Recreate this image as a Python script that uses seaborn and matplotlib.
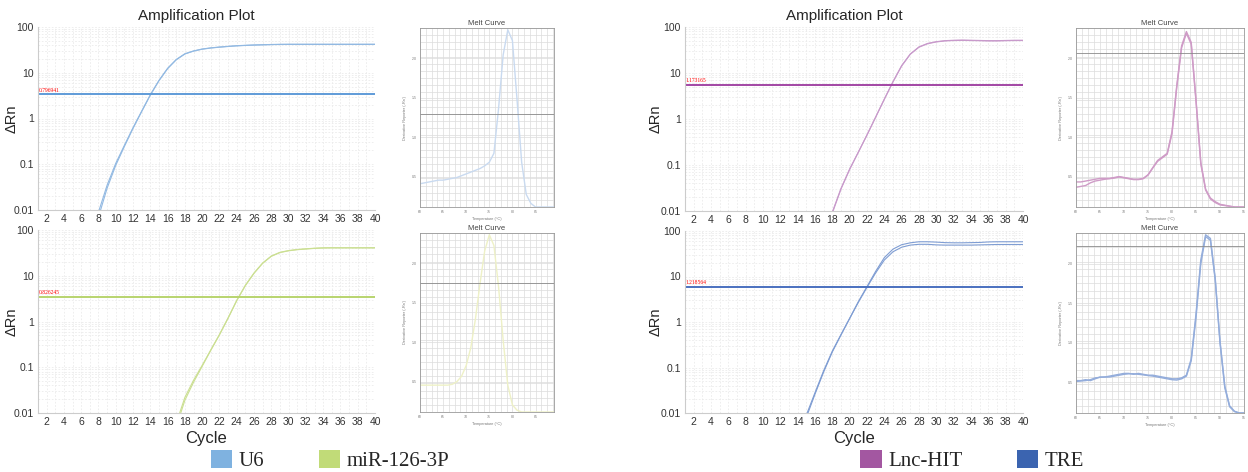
import matplotlib
matplotlib.use("Agg")
import numpy as np
import pandas as pd
import matplotlib.pyplot as plt
from matplotlib.patches import Patch
from matplotlib.ticker import FixedLocator, MultipleLocator, LogLocator, NullFormatter
import seaborn as sns

sns.set_style("white")
plt.rcParams['font.family'] = ['Liberation Sans', 'DejaVu Sans']

# 증폭 곡선 (cycle 1~40, 반복 2개씩)
cycles = list(range(1, 41))
tiny = [1e-4] * 13

u6_rep1 = [1e-4, 1.5e-4, 2e-4, 3e-4, 5e-4, 1e-3, 2.5e-3, 0.009, 0.035, 0.105,
           0.26, 0.63, 1.45, 3.3, 6.8, 12.5, 19.5, 26, 30, 33,
           35, 36.5, 37.8, 39, 39.8, 40.5, 41, 41.5, 41.8, 42,
           42, 42, 42, 42, 42, 42, 42, 42, 42, 42]
u6_rep2 = [1e-4, 1.5e-4, 2e-4, 3e-4, 5e-4, 1e-3, 2e-3, 0.007, 0.03, 0.095,
           0.245, 0.61, 1.42, 3.25, 6.7, 12.3, 19.2, 25.7, 29.7, 32.7,
           34.7, 36.2, 37.5, 38.7, 39.5, 40.2, 40.7, 41.2, 41.5, 41.6,
           41.6, 41.6, 41.6, 41.6, 41.6, 41.6, 41.6, 41.6, 41.6, 41.6]

mir_rep1 = tiny + [1e-4, 5e-4, 0.0015, 0.006, 0.022, 0.052, 0.11, 0.24, 0.52, 1.2,
                   2.9, 6.2, 11.5, 19, 27, 32.5, 35.5, 37.5, 38.8, 40,
                   40.8, 41, 41, 41, 41, 41, 41]
mir_rep2 = tiny + [1e-4, 4e-4, 0.0012, 0.005, 0.019, 0.047, 0.105, 0.235, 0.51, 1.18,
                   2.85, 6.1, 11.3, 18.7, 26.6, 32.1, 35.1, 37.1, 38.4, 39.6,
                   40.4, 40.6, 40.6, 40.6, 40.6, 40.6, 40.6]

lnc_rep1 = tiny + [1e-4, 2e-4, 5e-4, 0.003, 0.009, 0.03, 0.08, 0.19, 0.45, 1.1,
                   2.7, 6.5, 14.5, 26, 37, 44, 48, 50.5, 51.5, 52,
                   51.5, 51, 50.5, 50.5, 51, 51.5, 51.5]
lnc_rep2 = tiny + [1e-4, 2e-4, 5e-4, 0.0032, 0.0095, 0.031, 0.082, 0.19, 0.45, 1.1,
                   2.7, 6.4, 14.2, 25.6, 36.4, 43.3, 47.3, 49.8, 50.8, 51.2,
                   50.8, 50.3, 49.8, 49.8, 50.3, 50.8, 50.8]

tre_rep1 = tiny + [0.002, 0.008, 0.026, 0.08, 0.22, 0.52, 1.2, 2.8, 6.0, 13,
                   26, 40, 50, 55, 58, 58, 57, 55.5, 55, 55,
                   55.5, 56, 57.5, 58, 58, 58, 58]
tre_rep2 = tiny + [0.0025, 0.009, 0.028, 0.085, 0.23, 0.53, 1.2, 2.7, 5.8, 12,
                   23, 35, 44, 49, 51, 51, 49.5, 49, 49, 49,
                   49, 49.5, 50, 50.5, 50.5, 50.5, 50.5]

thresholds = [3.4, 3.5, 5.6, 6.0]
threshold_labels = ['0.796941', '0.826245', '1.173165', '1.218564']

# 용융 곡선 (60~95 ℃, 정규화 값)
temps = list(range(60, 96))
u6_melt = [.13, .135, .14, .145, .15, .15, .155, .16, .165, .175,
           .185, .195, .205, .215, .23, .25, .3, .55, .85, .99,
           .93, .6, .25, .07, .02, 0, 0, 0, 0, 0,
           0, 0, 0, 0, 0, 0]
mir_melt = [.15, .15, .15, .15, .15, .15, .15, .155, .17, .2,
            .26, .36, .52, .72, .9, .99, .93, .7, .4, .15,
            .04, .01, 0, 0, 0, 0, 0, 0, 0, 0,
            0, 0, 0, 0, 0, 0]
lnc_melt1 = [.14, .14, .145, .15, .155, .16, .16, .16, .165, .17,
             .165, .16, .155, .155, .16, .18, .22, .26, .28, .30,
             .42, .68, .9, .98, .92, .6, .25, .1, .05, .03,
             .015, .01, .005, 0, 0, 0]
lnc_melt2 = [.11, .115, .12, .135, .145, .15, .155, .158, .162, .168,
             .163, .158, .153, .153, .158, .178, .218, .255, .275, .295,
             .41, .67, .89, .97, .91, .59, .24, .095, .045, .025,
             .012, .008, .004, 0, 0, 0]
tre_melt1 = [.18, .18, .185, .18, .19, .2, .2, .205, .21, .215,
             .22, .22, .215, .22, .215, .21, .21, .205, .2, .195,
             .19, .19, .195, .21, .3, .55, .85, .99, .97, .75,
             .4, .15, .04, .01, 0, 0]
tre_melt2 = [.175, .178, .18, .185, .195, .198, .2, .2, .205, .21,
             .215, .218, .218, .215, .212, .208, .205, .2, .195, .19,
             .185, .183, .19, .205, .29, .53, .83, .98, .96, .74,
             .39, .14, .035, .008, 0, 0]
melt_lines = [0.52, 0.72, 0.86, 0.93]

targets = ['U6', 'miR-126-3P', 'Lnc-HIT', 'TRE']
legend_colors = ['#7fb2e0', '#c1db78', '#a357a1', '#3b64b0']
curve_colors = ['#92b9e2', '#cbdf92', '#c89acb', '#7f9dd3']
thresh_colors = ['#5f9bd8', '#b8d46e', '#a246a4', '#4a70bf']
melt_colors = ['#c9daf0', '#eef1c6', '#cf9cc7', '#94addb']

W, H = 1248, 472
fig = plt.figure(figsize=(W / 100, H / 100), dpi=100)


def px_axes(left, top, right, bottom):
    return fig.add_axes([left / W, 1 - bottom / H, (right - left) / W, (bottom - top) / H])


def draw_amp(ax, reps, i, top_row, ylab_x):
    for rep in reps:
        sns.lineplot(x=cycles, y=rep, ax=ax, color=curve_colors[i], lw=0.8)
    ax.axhline(thresholds[i], color=thresh_colors[i], lw=1.4)
    ax.text(1.1, thresholds[i] * 1.08, threshold_labels[i], color='red',
            fontsize=4, family='Liberation Serif', va='bottom')
    ax.set_yscale('log')
    ax.set_ylim(0.01, 100)
    ax.set_xlim(1, 40)
    ax.xaxis.set_major_locator(FixedLocator(list(range(2, 41, 2))))
    ax.xaxis.set_minor_locator(MultipleLocator(1))
    ax.yaxis.set_major_locator(FixedLocator([0.01, 0.1, 1, 10, 100]))
    ax.yaxis.set_minor_locator(LogLocator(base=10, subs=np.arange(2, 10)))
    ax.yaxis.set_minor_formatter(NullFormatter())
    ax.set_yticklabels(['0.01', '0.1', '1', '10', '100'])
    ax.grid(True, which='both', color='#ebebeb', lw=0.6, ls=(0, (2, 2)))
    ax.tick_params(which='both', length=0, labelsize=7.5, colors='#333333', pad=3)
    for s in ['top', 'right']:
        ax.spines[s].set_visible(False)
    for s in ['left', 'bottom']:
        ax.spines[s].set_color('#cccccc')
        ax.spines[s].set_linewidth(0.8)
    ax.set_ylabel('ΔRn', fontsize=10.5)
    ax.yaxis.set_label_coords(ylab_x, 0.5)
    if top_row:
        ax.set_title('Amplification Plot', fontsize=11, pad=5, x=0.47)
        ax.set_xlabel('')
    else:
        ax.set_xlabel('Cycle', fontsize=12, labelpad=3)


def draw_melt(ax, curves, i, j, xmax):
    for c in curves:
        sns.lineplot(x=temps, y=c, ax=ax, color=melt_colors[i], lw=1.0)
    ax.axhline(melt_lines[j], color='#8a8a8a', lw=0.6)
    ax.set_xlim(60, xmax)
    ax.set_ylim(0, 1)
    ax.xaxis.set_major_locator(MultipleLocator(5))
    ax.xaxis.set_minor_locator(MultipleLocator(1.25))
    ax.yaxis.set_major_locator(FixedLocator([0.17, 0.39, 0.61, 0.83]))
    ax.set_yticklabels(['0.5', '1.0', '1.5', '2.0'])
    ax.yaxis.set_minor_locator(MultipleLocator(0.04))
    ax.grid(True, which='both', color='#dcdcdc', lw=0.5)
    ax.tick_params(which='both', length=0, labelsize=2.5, colors='#777777', pad=2)
    for s in ax.spines.values():
        s.set_color('#999999')
        s.set_linewidth(0.6)
    ax.set_title('Melt Curve', fontsize=5.5, color='#444444', pad=2)
    ax.set_xlabel('Temperature (°C)', fontsize=2.8, color='#777777', labelpad=2)
    ax.set_ylabel("Derivative Reporter (-Rn')", fontsize=2.8, color='#777777', labelpad=4)


ax_tl = px_axes(38, 27, 375, 210)
ax_bl = px_axes(38, 230, 375, 413)
ax_tr = px_axes(685, 27, 1023, 211)
ax_br = px_axes(685, 231, 1023, 413)
draw_amp(ax_tl, [u6_rep1, u6_rep2], 0, True, -0.058)
draw_amp(ax_bl, [mir_rep1, mir_rep2], 1, False, -0.058)
draw_amp(ax_tr, [lnc_rep1, lnc_rep2], 2, True, -0.066)
draw_amp(ax_br, [tre_rep1, tre_rep2], 3, False, -0.066)

m_tl = px_axes(420, 28, 554, 207)
m_bl = px_axes(420, 233, 554, 412)
m_tr = px_axes(1076, 28, 1244, 207)
m_br = px_axes(1076, 233, 1244, 413)
draw_melt(m_tl, [u6_melt], 0, 0, 89)
draw_melt(m_bl, [mir_melt], 1, 1, 89)
draw_melt(m_tr, [lnc_melt1, lnc_melt2], 2, 2, 95)
draw_melt(m_br, [tre_melt1, tre_melt2], 3, 3, 95)

# 범례
for k, cx in [(0, 330 / W), (2, 972 / W)]:
    handles = [Patch(facecolor=legend_colors[k + n], edgecolor='none') for n in range(2)]
    fig.legend(handles, targets[k:k + 2], loc='lower center', bbox_to_anchor=(cx, 0.0),
               ncol=2, frameon=False, prop={'family': 'Liberation Serif', 'size': 15},
               handlelength=1.05, handleheight=1.0, handletextpad=0.3, columnspacing=2.6,
               borderaxespad=0.0, borderpad=0.05)

plt.savefig('out.png', dpi=100)
